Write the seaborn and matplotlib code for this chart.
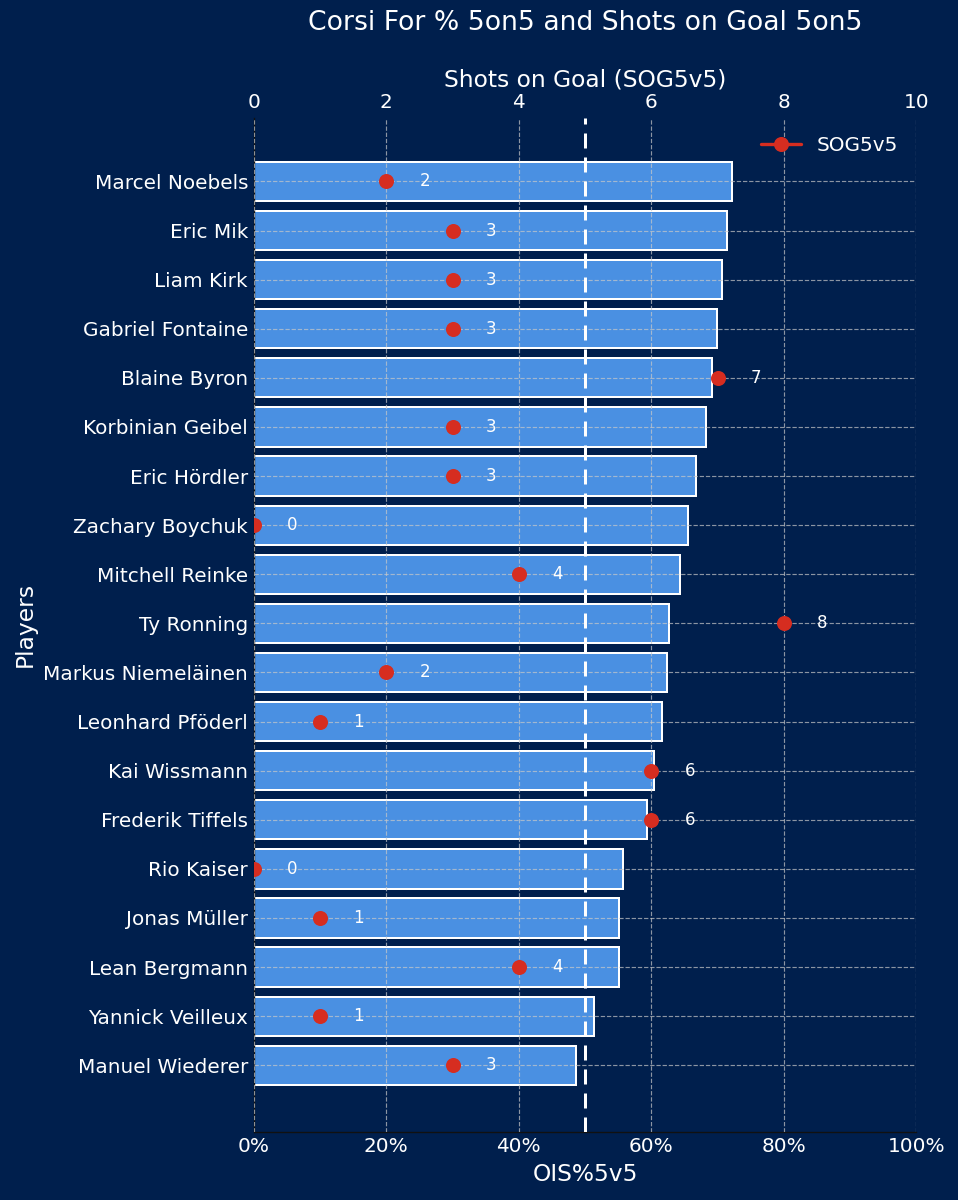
import pandas as pd
import matplotlib.pyplot as plt
import seaborn as sns
from matplotlib.lines import Line2D
from matplotlib.ticker import PercentFormatter

# Data
players = ["Marcel Noebels", "Eric Mik", "Liam Kirk", "Gabriel Fontaine", "Blaine Byron",
           "Korbinian Geibel", "Eric Hördler", "Zachary Boychuk", "Mitchell Reinke",
           "Ty Ronning", "Markus Niemeläinen", "Leonhard Pföderl", "Kai Wissmann",
           "Frederik Tiffels", "Rio Kaiser", "Jonas Müller", "Lean Bergmann",
           "Yannick Veilleux", "Manuel Wiederer"]
cf_pct = [72.1, 71.4, 70.6, 69.9, 69.1, 68.2, 66.8, 65.5, 64.4, 62.7,
          62.3, 61.6, 60.4, 59.3, 55.7, 55.1, 55.1, 51.4, 48.7]
sog = [2, 3, 3, 3, 7, 3, 3, 0, 4, 8, 2, 1, 6, 6, 0, 1, 4, 1, 3]

df = pd.DataFrame({"player": players, "cf": cf_pct, "sog": sog})

bg = '#001f4d'
bar_color = '#4a90e2'
red = '#d62d20'

sns.set_style('dark')
plt.rcParams['font.family'] = ['DejaVu Sans']

fig = plt.figure(figsize=(958 / 120, 1200 / 120), dpi=120, facecolor=bg)
ax = fig.add_axes([0.265, 0.057, 0.6915, 0.845])
ax.set_facecolor(bg)

sns.barplot(data=df, y='player', x='cf', orient='h', color=bar_color,
            edgecolor='white', linewidth=1.2, width=0.8, saturation=1, ax=ax)
ax.set_xlim(0, 100)
ax.set_ylim(len(players) - 1 + 1.35, -1.3)
ax.xaxis.set_major_formatter(PercentFormatter(decimals=0))
ax.set_xticks([0, 20, 40, 60, 80, 100])
ax.axvline(50, color='white', linestyle=(0, (5, 3)), linewidth=1.8, zorder=3)
ax.set_axisbelow(False)
ax.grid(True, color='#c8c8c8', linestyle='--', linewidth=0.7, alpha=0.7)
ax.set_xlabel("OIS%5v5", color='white', fontsize=14)
ax.set_ylabel("Players", color='white', fontsize=14)
ax.tick_params(colors='white', labelsize=12, length=0)
for s in ['top', 'right']:
    ax.spines[s].set_visible(False)
for s in ['left', 'bottom']:
    ax.spines[s].set_visible(True)
    ax.spines[s].set_color('#111111')

# Shots on goal on twin axis
ax2 = ax.twiny()
ax2.set_xlim(0, 10)
ypos = list(range(len(players)))
ax2.plot(df['sog'], ypos, 'o', color=red, markersize=8, zorder=5)
for x, y in zip(df['sog'], ypos):
    ax2.text(x + 0.5, y, str(x), color='white', fontsize=10, va='center', ha='left')
ax2.set_xlabel("Shots on Goal (SOG5v5)", color='white', fontsize=14)
ax2.tick_params(colors='white', labelsize=12, length=0)
for s in ax2.spines.values():
    s.set_visible(False)

handle = Line2D([0], [0], color=red, marker='o', markersize=8, linewidth=2)
leg = ax2.legend([handle], ["SOG5v5"], loc='upper right', frameon=False,
                 fontsize=12, bbox_to_anchor=(1.0, 1.0))
for t in leg.get_texts():
    t.set_color('white')

fig.suptitle("Corsi For % 5on5 and Shots on Goal 5on5", color='white',
             fontsize=16, x=0.611, y=0.992)

plt.savefig("out.png", dpi=120, facecolor=bg)
plt.close()
